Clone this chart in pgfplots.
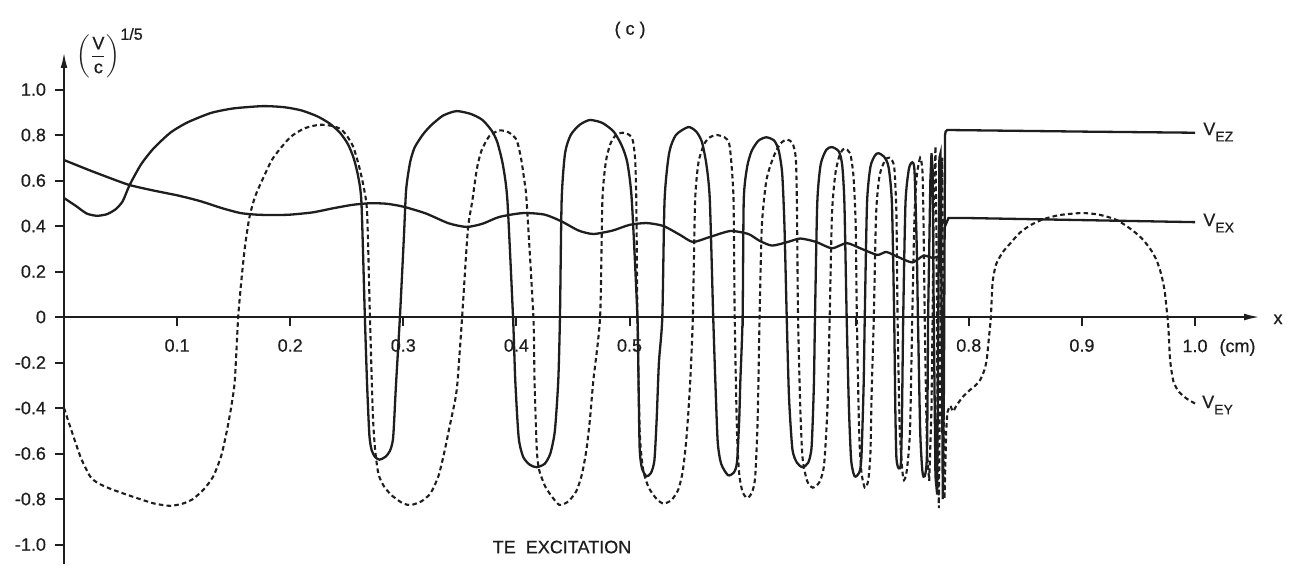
\documentclass[border=0pt]{standalone}
\usepackage{amsmath}
\usepackage{fontspec}
\setmainfont{Liberation Sans}[FakeBold=0.6]
\usepackage{pgfplots}
\pgfplotsset{compat=1.18}
\usetikzlibrary{arrows.meta}

\definecolor{ink}{RGB}{30,30,30}
\newcommand{\lbl}{\fontsize{9}{10}\selectfont}
\newcommand{\sub}[1]{\raisebox{-3.2pt}{\fontsize{7}{8}\selectfont #1}}

\pgfplotsset{
  solidcurve/.style={ink, line width=1.15pt},
  dashcurve/.style={ink, line width=1.05pt, dash pattern=on 2.3pt off 1.6pt},
  round/.style={smooth, tension=0.4},
}

\begin{document}
\begin{tikzpicture}
\begin{axis}[
  scale only axis,
  width=597.7pt, height=255.9pt,
  xmin=0, xmax=1.0575, ymin=-1.0857, ymax=1.165,
  axis lines=middle,
  axis line style={ink, line width=1.05pt, -{Latex[length=8pt,width=3.4pt]}},
  clip=false,
  tick align=outside,
  major tick length=4.5pt,
  tick style={ink, line width=1pt},
  hide obscured x ticks=false,
  hide obscured y ticks=false,
  xtick={0.1,0.2,0.3,0.4,0.5,0.6,0.7,0.8,0.9,1.0},
  xticklabels={0.1,0.2,0.3,0.4,0.5,,,0.8,0.9,{1.0\rlap{\hspace{6pt}(cm)}}},
  ytick={-1.0,-0.8,-0.6,-0.4,-0.2,0,0.2,0.4,0.6,0.8,1.0},
  yticklabels={-1.0,-0.8,-0.6,-0.4,-0.2,0,0.2,0.4,0.6,0.8,1.0},
  ticklabel style={font=\lbl, text=ink},
  xticklabel style={yshift=-3pt},
  yticklabel style={xshift=-1pt},
]

% longitudinal field component V_EZ: oscillating part
\addplot[solidcurve, round] coordinates {
(0,0.523) (0.01,0.49) (0.02,0.455) (0.029,0.445) (0.038,0.452) (0.046,0.475) (0.052,0.51)
(0.058,0.58) (0.068,0.67) (0.079,0.74) (0.094,0.81) (0.109,0.855) (0.13,0.897) (0.15,0.917)
(0.176,0.927) (0.195,0.922) (0.21,0.908) (0.224,0.882) (0.235,0.85) (0.244,0.81) (0.251,0.76)
(0.256,0.70) (0.26,0.62) (0.263,0.50) (0.266,0.0) (0.268,-0.3) (0.27,-0.52) (0.272,-0.585)
(0.275,-0.615) (0.279,-0.627) (0.284,-0.615) (0.288,-0.59) (0.291,-0.53) (0.2935,-0.3)
(0.297,0.0) (0.3005,0.35) (0.3025,0.56) (0.306,0.68) (0.31,0.745) (0.317,0.80) (0.324,0.84)
(0.335,0.885) (0.347,0.905) (0.36,0.892) (0.37,0.866) (0.378,0.82) (0.383,0.77) (0.388,0.67)
(0.392,0.514) (0.397,0.0) (0.399,-0.28) (0.402,-0.53) (0.406,-0.615) (0.412,-0.65)
(0.418,-0.66) (0.425,-0.645) (0.43,-0.6) (0.434,-0.5) (0.437,-0.28) (0.4385,0.0) (0.44,0.514)
(0.443,0.72) (0.448,0.80) (0.456,0.845) (0.465,0.866) (0.476,0.853) (0.486,0.815)
(0.493,0.755) (0.498,0.68) (0.502,0.514) (0.507,0.0) (0.508,-0.3) (0.509,-0.58)
(0.511,-0.665) (0.515,-0.70) (0.519,-0.685) (0.522,-0.63) (0.524,-0.45) (0.526,-0.2)
(0.529,0.0) (0.531,0.514) (0.535,0.72) (0.541,0.80) (0.552,0.835) (0.559,0.815) (0.564,0.77)
(0.568,0.67) (0.571,0.514) (0.574,0.0) (0.576,-0.3) (0.578,-0.55) (0.581,-0.645)
(0.587,-0.695) (0.592,-0.685) (0.595,-0.64) (0.597,-0.45) (0.598,-0.28) (0.6,0.0)
(0.601,0.514) (0.604,0.66) (0.608,0.73) (0.614,0.775) (0.621,0.79) (0.628,0.775) (0.632,0.73)
(0.635,0.63) (0.637,0.40) (0.639,0.0) (0.641,-0.35) (0.644,-0.58) (0.648,-0.64) (0.653,-0.66)
(0.658,-0.64) (0.661,-0.57) (0.663,-0.3) (0.664,0.0) (0.666,0.5) (0.669,0.67) (0.674,0.735)
(0.679,0.747) (0.685,0.728) (0.688,0.67) (0.69,0.5) (0.692,0.0) (0.694,-0.4) (0.696,-0.63)
(0.699,-0.70) (0.703,-0.685) (0.705,-0.62) (0.707,-0.3) (0.708,0.0) (0.71,0.5) (0.713,0.66)
(0.717,0.71) (0.72,0.72) (0.725,0.705) (0.729,0.66) (0.732,0.5) (0.734,0.0) (0.735,-0.4)
(0.736,-0.62) (0.738,-0.665) (0.74,-0.64) (0.741,-0.4) (0.742,0.0) (0.744,0.5) (0.747,0.65)
(0.75,0.68) (0.752,0.64) (0.754,0.3) (0.755,0.0) (0.757,-0.5) (0.759,-0.68) (0.761,-0.70)
(0.763,-0.6) (0.764,0.0)
};
% V_EZ: dense oscillations, jump and plateau
\addplot[solidcurve] coordinates {
(0.764,0.0) (0.766,0.6) (0.767,0.72) (0.768,0.65) (0.769,0.0) (0.7705,-0.7) (0.772,-0.78)
(0.773,0.0) (0.774,0.7) (0.775,0.72) (0.776,0.0) (0.777,-0.8) (0.778,-0.3) (0.779,0.80)
(0.7795,0.815) (0.781,0.822) (0.9,0.815) (1.0,0.81)
};

% transverse component V_EX
\addplot[solidcurve, round] coordinates {
(0,0.69) (0.02,0.65) (0.04,0.612) (0.058,0.58) (0.08,0.555) (0.1,0.535) (0.12,0.51)
(0.14,0.478) (0.156,0.457) (0.17,0.45) (0.185,0.448) (0.2,0.45) (0.22,0.46) (0.238,0.478)
(0.255,0.493) (0.27,0.50) (0.285,0.498) (0.3,0.485) (0.32,0.455) (0.34,0.412) (0.356,0.396)
(0.37,0.41) (0.385,0.44) (0.406,0.457) (0.425,0.45) (0.44,0.42) (0.455,0.38) (0.468,0.365)
(0.485,0.38) (0.5,0.405) (0.515,0.413) (0.53,0.40) (0.545,0.36) (0.556,0.33) (0.57,0.35)
(0.589,0.378) (0.605,0.365) (0.615,0.335) (0.626,0.314) (0.64,0.33) (0.651,0.345)
(0.665,0.33) (0.679,0.302) (0.692,0.325) (0.705,0.30) (0.719,0.273) (0.727,0.286)
(0.737,0.265) (0.75,0.24) (0.76,0.27) (0.768,0.26) (0.775,0.27)
};
\addplot[solidcurve] coordinates {
(0.775,0.27) (0.776,0.41) (0.778,0.425) (0.7795,0.405) (0.782,0.435) (0.8,0.435) (1.0,0.417)
};

% transverse component V_EY
\addplot[dashcurve, round] coordinates {
(0,-0.40) (0.008,-0.52) (0.015,-0.62) (0.023,-0.70) (0.03,-0.73) (0.041,-0.755) (0.055,-0.78)
(0.067,-0.80) (0.08,-0.82) (0.094,-0.83) (0.105,-0.82) (0.114,-0.80) (0.124,-0.755)
(0.132,-0.70) (0.139,-0.61) (0.144,-0.50) (0.148,-0.39) (0.151,-0.28) (0.154,0.0)
(0.157,0.17) (0.16,0.31) (0.164,0.44) (0.169,0.53) (0.176,0.61) (0.185,0.70) (0.2,0.79)
(0.213,0.83) (0.226,0.845) (0.237,0.84) (0.245,0.825) (0.251,0.79) (0.256,0.745)
(0.261,0.66) (0.265,0.57) (0.268,0.457) (0.2705,0.0) (0.273,-0.42) (0.275,-0.58)
(0.278,-0.69) (0.283,-0.745) (0.29,-0.785) (0.3,-0.82) (0.307,-0.826) (0.316,-0.81)
(0.324,-0.775) (0.331,-0.70) (0.336,-0.60) (0.341,-0.48) (0.346,-0.36) (0.348,-0.28)
(0.352,0.0) (0.357,0.38) (0.361,0.51) (0.365,0.65) (0.369,0.73) (0.376,0.795) (0.385,0.82)
(0.393,0.812) (0.40,0.78) (0.404,0.70) (0.407,0.60) (0.409,0.51) (0.415,0.0) (0.416,-0.28)
(0.418,-0.58) (0.42,-0.67) (0.425,-0.74) (0.43,-0.78) (0.438,-0.826) (0.446,-0.81)
(0.453,-0.765) (0.458,-0.69) (0.462,-0.58) (0.465,-0.45) (0.468,-0.28) (0.474,0.0)
(0.476,0.51) (0.479,0.68) (0.483,0.76) (0.488,0.80) (0.494,0.81) (0.5,0.80) (0.503,0.775)
(0.505,0.69) (0.506,0.51) (0.507,0.0) (0.509,-0.5) (0.512,-0.67) (0.517,-0.75) (0.524,-0.80)
(0.53,-0.82) (0.537,-0.805) (0.543,-0.76) (0.547,-0.68) (0.55,-0.55) (0.552,-0.42)
(0.554,-0.25) (0.556,0.0) (0.558,0.51) (0.561,0.68) (0.566,0.76) (0.571,0.79) (0.577,0.80)
(0.584,0.79) (0.588,0.765) (0.59,0.68) (0.592,0.51) (0.593,0.0) (0.595,-0.5) (0.597,-0.69)
(0.6,-0.77) (0.604,-0.795) (0.608,-0.775) (0.611,-0.71) (0.613,-0.5) (0.614,-0.28)
(0.615,0.0) (0.617,0.4) (0.621,0.6) (0.627,0.70) (0.633,0.76) (0.639,0.78) (0.644,0.765)
(0.647,0.70) (0.648,0.5) (0.649,0.0) (0.651,-0.4) (0.653,-0.62) (0.657,-0.72) (0.662,-0.75)
(0.668,-0.725) (0.672,-0.65) (0.675,-0.4) (0.677,0.0) (0.679,0.45) (0.682,0.63)
(0.686,0.715) (0.69,0.74) (0.695,0.72) (0.698,0.62) (0.7,0.4) (0.701,0.0) (0.703,-0.5)
(0.705,-0.68) (0.708,-0.75) (0.711,-0.72) (0.713,-0.6) (0.714,-0.35) (0.716,0.0)
(0.718,0.45) (0.721,0.62) (0.726,0.69) (0.73,0.70) (0.734,0.66) (0.736,0.45) (0.737,0.0)
(0.739,-0.5) (0.742,-0.71) (0.745,-0.68) (0.748,-0.5) (0.75,0.0) (0.752,0.45) (0.754,0.62)
(0.757,0.70) (0.759,0.64) (0.76,0.4) (0.761,0.0)
};
\addplot[dashcurve] coordinates {
(0.761,0.0) (0.763,-0.6) (0.765,-0.72) (0.767,-0.4) (0.768,0.0) (0.769,0.5) (0.7705,0.75)
(0.7715,0.3) (0.7725,-0.6) (0.7735,-0.84) (0.7745,-0.3) (0.7755,0.5) (0.7765,0.7)
(0.7775,-0.2) (0.7785,-0.8) (0.78,-0.5) (0.781,-0.42)
};
\addplot[dashcurve, round] coordinates {
(0.781,-0.42) (0.7835,-0.39) (0.786,-0.415) (0.789,-0.39) (0.794,-0.355) (0.8,-0.325)
(0.806,-0.30) (0.81,-0.277) (0.814,-0.23) (0.816,-0.18) (0.818,-0.08) (0.8195,0.0)
(0.821,0.15) (0.824,0.23) (0.83,0.285) (0.836,0.32) (0.845,0.37) (0.855,0.405) (0.866,0.43)
(0.88,0.448) (0.9,0.457) (0.915,0.45) (0.931,0.426) (0.945,0.38) (0.954,0.34) (0.961,0.295)
(0.966,0.25) (0.97,0.19) (0.973,0.12) (0.975,0.03) (0.9765,-0.05) (0.978,-0.19)
(0.981,-0.285) (0.986,-0.33) (0.993,-0.36) (1.0,-0.38)
};

% annotations
\node[font=\lbl, text=ink] at (axis cs:0.5005,1.2615) {(\hspace{2.5pt}c\hspace{2.5pt})};
\node[anchor=west, inner sep=0pt, text=ink, font=\lbl]
  at (axis cs:0.0106,1.16) {$\left(\dfrac{\text{V}}{\text{c}}\right)^{\text{\fontsize{8}{9}\selectfont 1/5}}$};
\node[text=ink, font=\lbl] at (axis cs:1.0734,-0.01) {x};
\node[text=ink, font=\lbl] at (axis cs:0.4403,-1.011) {TE\hspace{5pt}EXCITATION};
\node[anchor=base west, inner sep=0pt, text=ink, font=\lbl]
  at (axis cs:1.007,0.80) {V\sub{EZ}};
\node[anchor=base west, inner sep=0pt, text=ink, font=\lbl]
  at (axis cs:1.007,0.40) {V\sub{EX}};
\node[anchor=base west, inner sep=0pt, text=ink, font=\lbl]
  at (axis cs:1.006,-0.40) {V\sub{EY}};

% page frame
\path (axis cs:-0.0566,-1.1341) rectangle (axis cs:1.0893,1.3934);
\end{axis}
\end{tikzpicture}
\end{document}
